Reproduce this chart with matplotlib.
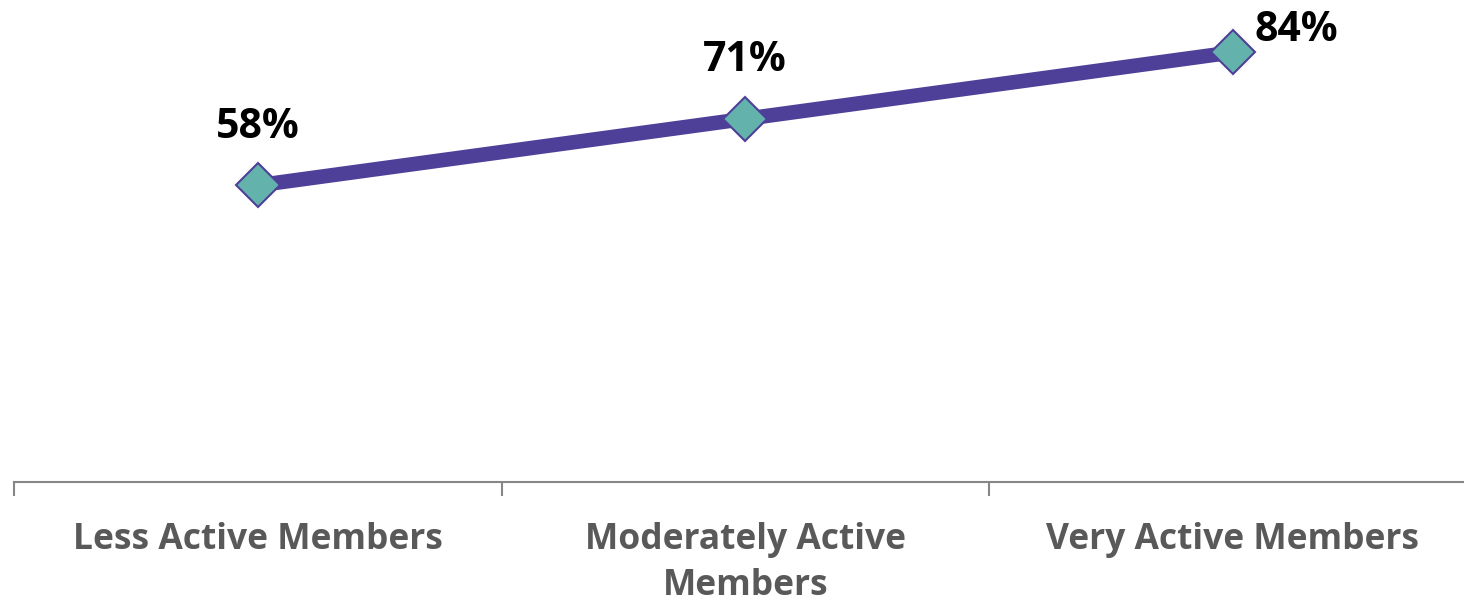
import matplotlib
matplotlib.use("Agg")
import matplotlib.pyplot as plt
from matplotlib.ticker import FixedLocator

plt.rcParams['font.family'] = ['Open Sans', 'DejaVu Sans']

categories = ["Less Active Members", "Moderately Active\nMembers", "Very Active Members"]
values = [58, 71, 84]
value_labels = ["58%", "71%", "84%"]

line_color = "#4E3F98"
marker_fill = "#63B3AC"
axis_color = "#868686"
tick_text_color = "#595959"

fig = plt.figure(figsize=(14.64, 6.0), dpi=100)
ax = fig.add_axes([14 / 1464, 118 / 600, 1462.5 / 1464, 511.5 / 600])

x = list(range(len(categories)))
ax.plot(x, values, color=line_color, linewidth=10.5, solid_capstyle='butt',
        marker='D', markersize=22.5, markerfacecolor=marker_fill,
        markeredgecolor=line_color, markeredgewidth=1.5, zorder=3)

ax.set_xlim(-0.5, len(categories) - 0.5)
ax.set_ylim(0, 100)

# value labels: above the point, except the last which sits to the upper right
for i, (v, lab) in enumerate(zip(values, value_labels)):
    if i < len(values) - 1:
        ax.annotate(lab, (i, v), xytext=(0, 27), textcoords='offset points',
                    ha='center', va='bottom', fontsize=29.5, fontweight='bold',
                    color='black', annotation_clip=False)
    else:
        ax.annotate(lab, (i, v), xytext=(16, 1), textcoords='offset points',
                    ha='left', va='bottom', fontsize=29.5, fontweight='bold',
                    color='black', annotation_clip=False)

for side in ('top', 'right', 'left'):
    ax.spines[side].set_visible(False)
ax.spines['bottom'].set_color(axis_color)
ax.spines['bottom'].set_linewidth(1.5)
ax.set_yticks([])

ax.set_xticks(x)
ax.set_xticklabels(categories, fontsize=25.5, fontweight='bold',
                   color=tick_text_color, linespacing=1.36)
ax.tick_params(axis='x', which='major', length=0, pad=29)
ax.xaxis.set_minor_locator(FixedLocator([i - 0.5 for i in range(len(categories) + 1)]))
ax.tick_params(axis='x', which='minor', length=10, width=1.5, color=axis_color)

fig.savefig("out.png", dpi=100)
